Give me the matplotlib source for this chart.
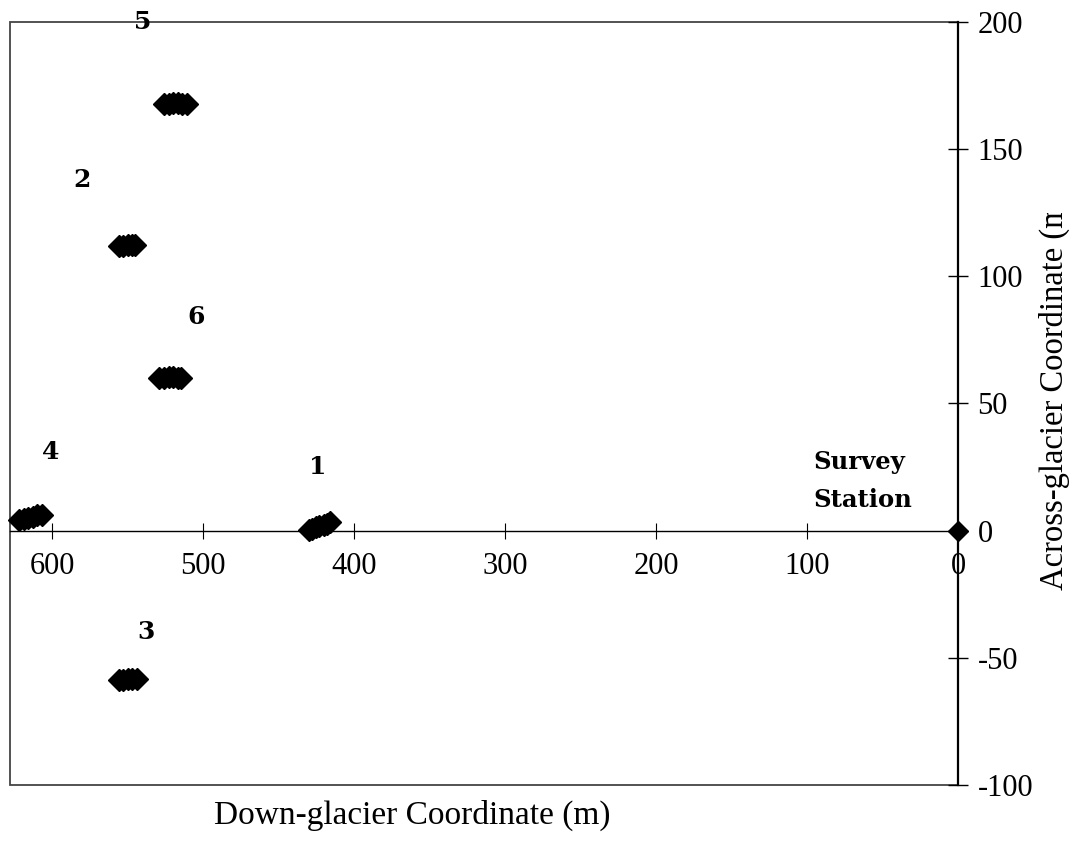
import numpy as np
import matplotlib.pyplot as plt
from matplotlib.patches import Rectangle
from matplotlib.transforms import Bbox, TransformedBbox

# survey point clusters (down-glacier, across-glacier), metres
stake_ids = ['1', '2', '3', '4', '5', '6']
stake_x = [
    [430, 428, 425, 423, 420, 418, 416],
    [556, 553, 550, 547, 545],
    [556, 553, 550, 547, 544],
    [622, 619, 616, 613, 610, 607],
    [526, 523, 520, 517, 514, 511],
    [529, 526, 523, 520, 517, 515],
]
stake_y = [
    [0.3, 0.8, 1.3, 1.8, 2.3, 2.8, 3.5],
    [112, 112, 112.3, 112.3, 112.5],
    [-58.6, -58.6, -58.4, -58.4, -58.2],
    [4.2, 4.5, 5.0, 5.5, 6.0, 6.3],
    [167.6, 167.8, 168, 168, 167.8, 167.6],
    [60, 60, 60.3, 60.3, 60.1, 60],
]
label_x = [424, 580, 538, 601, 540, 505]
label_y = [25, 138, -40, 31, 200, 84]

station_x = [0]
station_y = [0]

xticks = [600, 500, 400, 300, 200, 100, 0]
yticks = [-100, -50, 0, 50, 100, 150, 200]

plt.rcParams['font.family'] = ['Liberation Serif', 'DejaVu Serif']
plt.rcParams['axes.unicode_minus'] = False

fig = plt.figure(figsize=(10.71, 8.51), dpi=100)
ax = fig.add_axes([10/1071, 1-785/851, 948/1071, 763/851])

for xs, ys in zip(stake_x, stake_y):
    ax.plot(xs, ys, linestyle='none', marker='D', markersize=11,
            color='black', clip_on=False, zorder=3)
for t, lx, ly in zip(stake_ids, label_x, label_y):
    ax.text(lx, ly, t, ha='center', va='center', fontsize=18,
            fontweight='bold', family='DejaVu Serif', clip_on=False)

ax.plot(station_x, station_y, linestyle='none', marker='D', markersize=10.5,
        color='black', clip_on=False, zorder=4)
ax.text(96, 27, 'Survey', ha='left', va='center', fontsize=17.5,
        fontweight='bold', family='DejaVu Serif')
ax.text(96, 12, 'Station', ha='left', va='center', fontsize=17.5,
        fontweight='bold', family='DejaVu Serif')

ax.set_xlim(628, 0)
ax.set_ylim(-100, 200)
ax.set_xticks(xticks)
ax.set_yticks(yticks)

ax.spines['left'].set_visible(False)
ax.spines['top'].set_visible(False)
ax.spines['bottom'].set_position(('data', 0))
ax.spines['bottom'].set_linewidth(1.0)
ax.spines['right'].set_linewidth(1.6)
ax.yaxis.tick_right()
ax.tick_params(axis='x', direction='inout', length=12, width=0.8,
               labelsize=22, pad=9)
ax.tick_params(axis='y', direction='inout', length=14, width=1.0,
               labelsize=22, pad=7)

frame = Rectangle((0, 0), 1, 1, transform=ax.transAxes, fill=False,
                  edgecolor='#444444', linewidth=1.3, clip_on=False, zorder=1)
ax.add_patch(frame)

fig.text(412/1071, 1-815/851, 'Down-glacier Coordinate (m)', ha='center',
         va='center', fontsize=24)
ylab = fig.text(1054/1071, 1-590/851, 'Across-glacier Coordinate (m)',
                rotation=90, ha='center', va='bottom', fontsize=23.5)
# the original title is cut off near the top
ylab.set_clip_box(TransformedBbox(Bbox([[0.9, 0.0], [1.0, 1-213/851]]),
                                  fig.transFigure))
ylab.set_clip_on(True)

plt.savefig('out.png', dpi=100)
